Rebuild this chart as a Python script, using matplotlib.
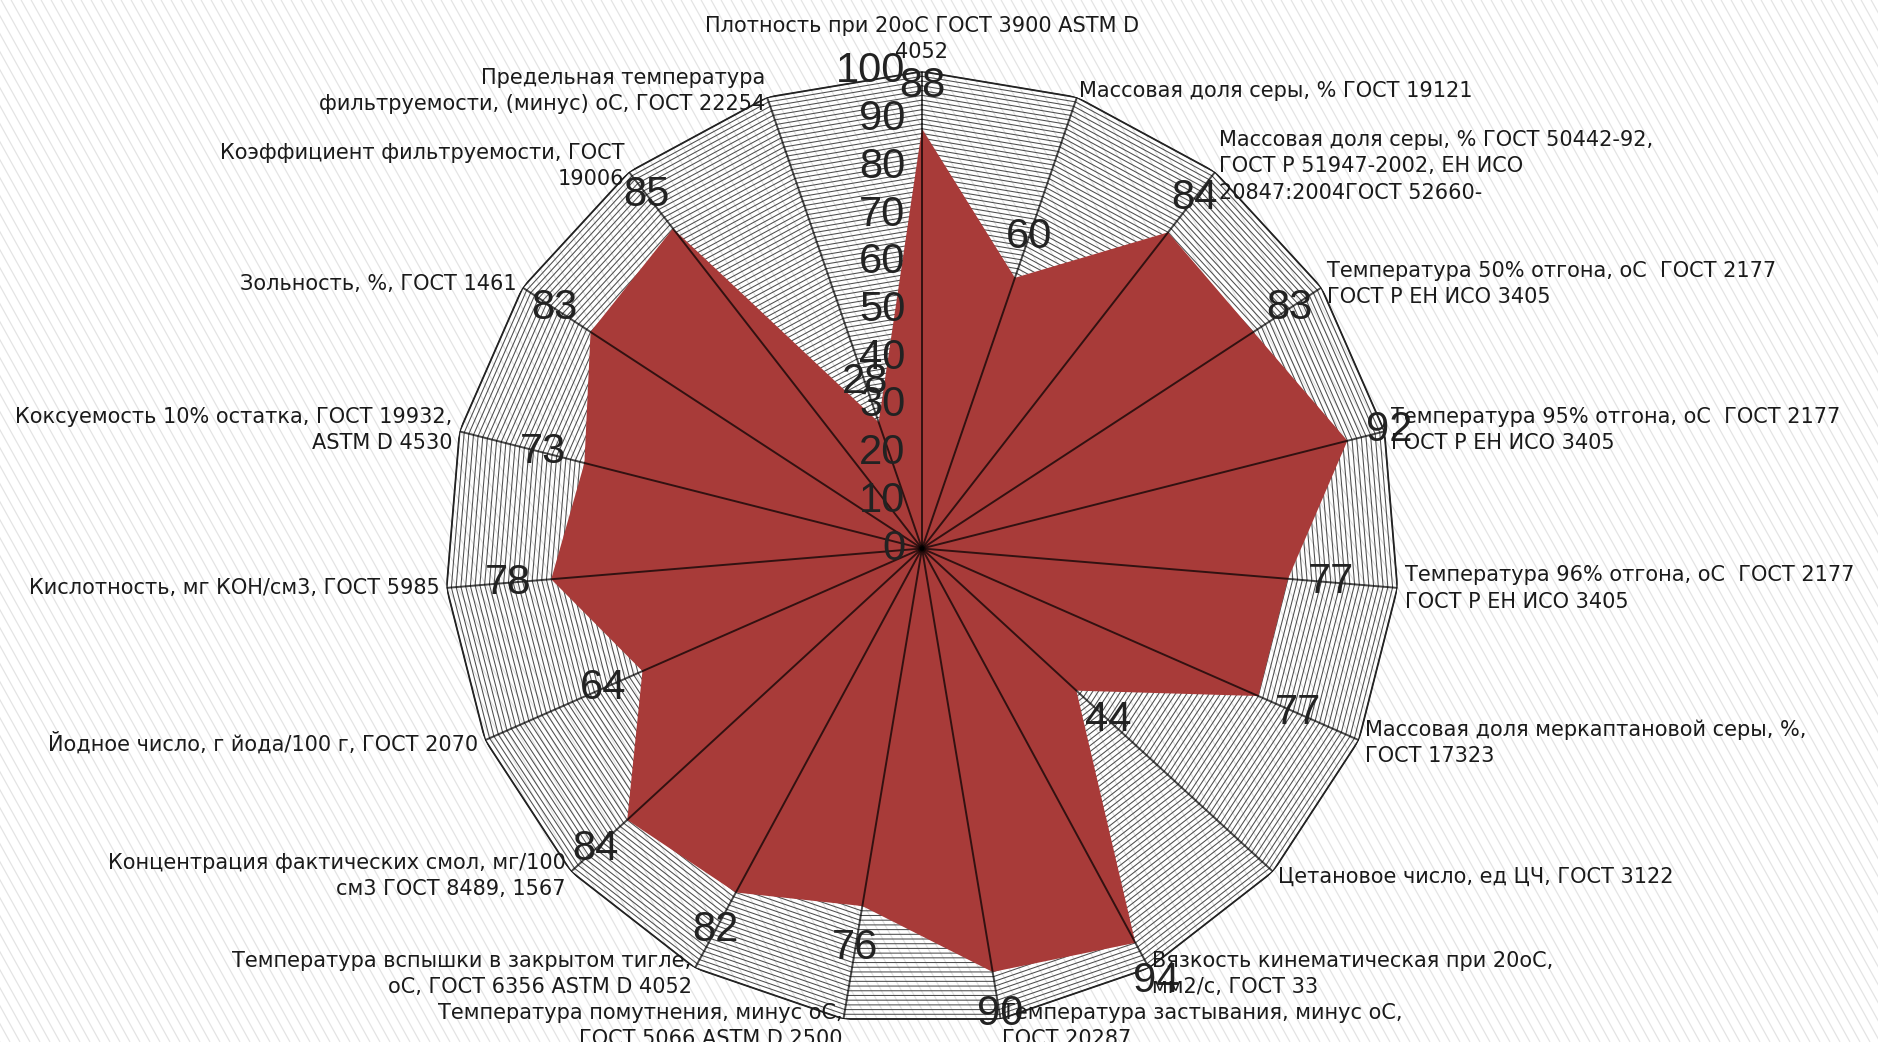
import numpy as np
import matplotlib
matplotlib.use("Agg")
import matplotlib.pyplot as plt
from matplotlib.collections import LineCollection

plt.rcParams['font.family'] = ['Liberation Sans', 'DejaVu Sans']

# fuel quality indicators, clockwise from the top spoke
categories = [
    'Плотность при 20оС ГОСТ 3900 ASTM D\n4052',
    'Массовая доля серы, % ГОСТ 19121',
    'Массовая доля серы, % ГОСТ 50442-92,\nГОСТ Р 51947-2002, ЕН ИСО\n20847:2004ГОСТ 52660-',
    'Температура 50% отгона, оС  ГОСТ 2177\nГОСТ Р ЕН ИСО 3405',
    'Температура 95% отгона, оС  ГОСТ 2177\nГОСТ Р ЕН ИСО 3405',
    'Температура 96% отгона, оС  ГОСТ 2177\nГОСТ Р ЕН ИСО 3405',
    'Массовая доля меркаптановой серы, %,\nГОСТ 17323',
    'Цетановое число, ед ЦЧ, ГОСТ 3122',
    'Вязкость кинематическая при 20оС,\nмм2/с, ГОСТ 33',
    'Температура застывания, минус оС,\nГОСТ 20287',
    'Температура помутнения, минус оС,\nГОСТ 5066 ASTM D 2500',
    'Температура вспышки в закрытом тигле,\nоС, ГОСТ 6356 ASTM D 4052',
    'Концентрация фактических смол, мг/100\nсм3 ГОСТ 8489, 1567',
    'Йодное число, г йода/100 г, ГОСТ 2070',
    'Кислотность, мг КОН/см3, ГОСТ 5985',
    'Коксуемость 10% остатка, ГОСТ 19932,\nASTM D 4530',
    'Зольность, %, ГОСТ 1461',
    'Коэффициент фильтруемости, ГОСТ\n19006',
    'Предельная температура\nфильтруемости, (минус) оС, ГОСТ 22254',
]
values = [88, 60, 84, 83, 92, 77, 77, 44, 94, 90, 76, 82, 84, 64, 78, 73, 83, 85, 28]
r_ticks = [0, 10, 20, 30, 40, 50, 60, 70, 80, 90, 100]

n = len(categories)
theta = np.arange(n) * 2 * np.pi / n
theta_closed = np.append(theta, theta[0])

W, H, dpi = 1878, 1042, 100
fig = plt.figure(figsize=(W / dpi, H / dpi), dpi=dpi)
fig.patch.set_facecolor('white')

# faint steep diagonal texture over the whole background
step, run = 10, H / 1.8
segs = [[((x0) / W, 1.0), ((x0 + run) / W, 0.0)] for x0 in np.arange(-run, W + step, step)]
fig.add_artist(LineCollection(segs, colors='#e4e4e4', linewidths=0.9,
                              transform=fig.transFigure, zorder=-10))

cx, cy, rad = 922, 548.5, 477
ax = fig.add_axes([(cx - rad) / W, (H - cy - rad) / H, 2 * rad / W, 2 * rad / H],
                  projection='polar')
ax.set_theta_zero_location('N')
ax.set_theta_direction(-1)
ax.set_ylim(0, 100)
ax.patch.set_alpha(0)
ax.grid(False)
ax.spines['polar'].set_visible(False)
ax.set_xticks([])
ax.set_yticks([])

# polygon gridlines every unit
for r in range(1, 101):
    ax.plot(theta_closed, [r] * (n + 1), color='#4d4d4d', lw=0.75, zorder=1)
ax.plot(theta_closed, [100] * (n + 1), color='#222222', lw=1.3, zorder=1)

vals_closed = np.append(values, values[0])
ax.fill(theta_closed, vals_closed, color='#A83B39', lw=0, zorder=2)

# spokes
for t in theta:
    ax.plot([t, t], [0, 100], color='black', lw=1.4, alpha=0.7, zorder=3)

# value labels just outside each point
for t, v in zip(theta, values):
    ax.text(t, v + 9, str(v), fontsize=30, ha='center', va='center',
            color='#222222', zorder=5)

# radial tick labels along the top spoke
for r in r_ticks:
    ax.annotate(str(r), (0, r), xytext=(-12, 0), textcoords='offset points',
                ha='right', va='center', fontsize=30, color='#222222', zorder=5)

# category labels at the spoke ends
lab_style = dict(fontsize=15, family=['DejaVu Sans'], linespacing=1.38,
                 color='#1a1a1a', zorder=6)
for k, (t, lab) in enumerate(zip(theta, categories)):
    if k == 0:
        ax.text(t, 102, lab, ha='center', va='bottom', multialignment='center', **lab_style)
    elif k <= 9:
        ax.text(t, 101.5, lab, ha='left', va='center', multialignment='left', **lab_style)
    else:
        ax.text(t, 101.5, lab, ha='right', va='center', multialignment='right', **lab_style)

fig.savefig('out.png', dpi=dpi)
plt.close(fig)
